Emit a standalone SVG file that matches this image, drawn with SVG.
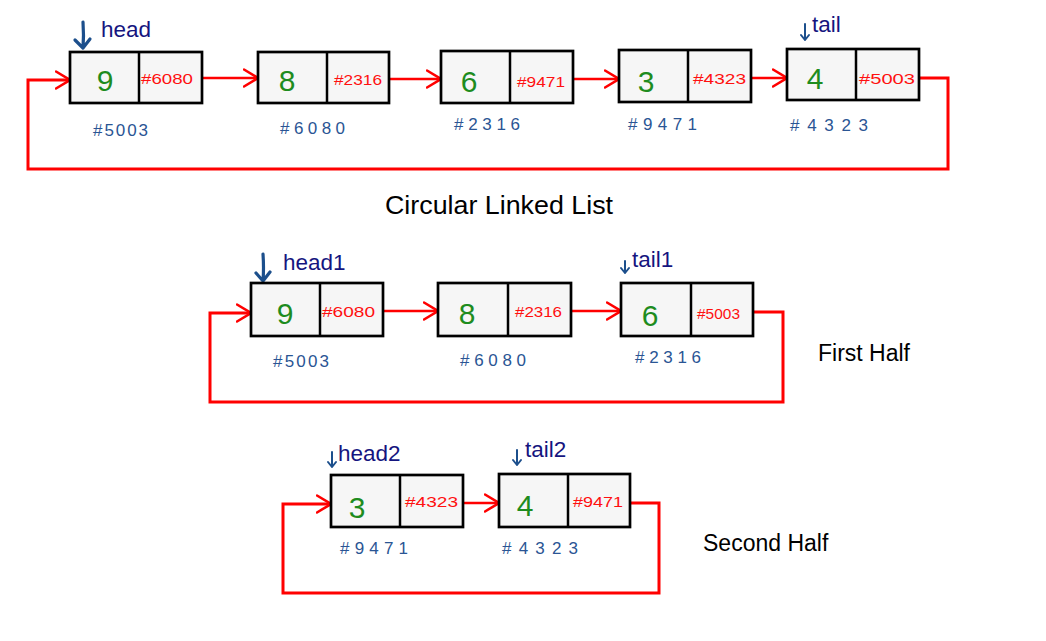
<svg xmlns="http://www.w3.org/2000/svg" width="1046" height="641" viewBox="0 0 1046 641">
<style>
.box{fill:#f6f6f6;stroke:#000;stroke-width:2.7}
.div{stroke:#000;stroke-width:2.5}
.val{font-family:"Liberation Sans","DejaVu Sans",sans-serif;font-size:30px;fill:#1e8c1e;text-anchor:middle;dominant-baseline:central}
.ptr{font-family:"Liberation Sans","DejaVu Sans",sans-serif;font-size:15px;fill:#ff1010;dominant-baseline:central}
.addr{font-family:"Liberation Sans","DejaVu Sans",sans-serif;font-size:17px;fill:#2a5594;dominant-baseline:central}
.lbl{font-family:"Liberation Sans","DejaVu Sans",sans-serif;font-size:22.5px;fill:#15157f}
.title{font-family:"Liberation Sans","Arial",sans-serif;fill:#000}
.link{fill:none;stroke:#ff0000;stroke-width:2.5;marker-end:url(#ah)}
.loop{fill:none;stroke:#ff0000;stroke-width:3;stroke-linejoin:miter;marker-end:url(#ah)}
.bigp{fill:none;stroke:#1c4f8c;stroke-width:3.2;stroke-linecap:round;stroke-linejoin:round}
.smp{fill:none;stroke:#1c4f8c;stroke-width:2;stroke-linecap:round;stroke-linejoin:round}
</style>
<defs>
<marker id="ah" viewBox="0 0 16 20" refX="15" refY="10" markerWidth="16" markerHeight="20" markerUnits="userSpaceOnUse" orient="auto">
<path d="M1,1.5 L15,10 L1,18.5" fill="none" stroke="#ff0000" stroke-width="2.6" stroke-linecap="round"/>
</marker>
</defs>
<rect width="1046" height="641" fill="#fff"/>

<g id="connectors">
<path class="link" d="M201,78 H258"/>
<path class="link" d="M389,79 H441"/>
<path class="link" d="M573,79 H619"/>
<path class="link" d="M751,78 H787"/>
<path class="loop" d="M919,78 H948 V169 H28 V80 H70"/>
<path class="link" d="M383,311 H438"/>
<path class="link" d="M571,311 H621"/>
<path class="loop" d="M753,312 H783 V402 H210 V313 H251"/>
<path class="link" d="M463,503 H499"/>
<path class="loop" d="M630,503 H659 V593 H283 V504 H331"/>
</g>

<g id="title-circular"><text class="title" x="385" y="214" font-size="26.5" textLength="228" lengthAdjust="spacingAndGlyphs">Circular Linked List</text></g>
<g id="title-first"><text class="title" x="818" y="361" font-size="23">First Half</text></g>
<g id="title-second"><text class="title" x="703" y="551" font-size="23">Second Half</text></g>

<g id="ptr-head">
<path class="bigp" d="M83,22 Q84,36 83,48 M75,40 L83,48 L90,39"/>
<text class="lbl" x="101" y="37" font-size="23">head</text>
</g>
<g id="ptr-tail">
<path class="smp" d="M805,24 V40 M801,35 L805,40 L809,35"/>
<text class="lbl" x="812" y="32" font-size="23">tail</text>
</g>
<g id="ptr-head1">
<path class="bigp" d="M263,254 Q264,268 263,281 M256,273 L263,281 L270,272"/>
<text class="lbl" x="283" y="270">head1</text>
</g>
<g id="ptr-tail1">
<path class="smp" d="M625,261 V273 M621,268 L625,273 L629,268"/>
<text class="lbl" x="632" y="267">tail1</text>
</g>
<g id="ptr-head2">
<path class="smp" d="M332,452 V467 M328,462 L332,467 L336,462"/>
<text class="lbl" x="338" y="461">head2</text>
</g>
<g id="ptr-tail2">
<path class="smp" d="M517,450 V465 M513,460 L517,465 L521,460"/>
<text class="lbl" x="525" y="457">tail2</text>
</g>

<g id="node-9">
<rect class="box" x="70" y="52" width="132" height="51"/><line class="div" x1="139" y1="52" x2="139" y2="103"/>
<text class="val" x="105" y="80">9</text>
<text class="ptr" x="141" y="78" textLength="52" lengthAdjust="spacingAndGlyphs">#6080</text>
<text class="addr" x="93" y="130" textLength="55" lengthAdjust="spacing">#5003</text>
</g>
<g id="node-8">
<rect class="box" x="258" y="52" width="131" height="51"/><line class="div" x1="327" y1="52" x2="327" y2="103"/>
<text class="val" x="287" y="80">8</text>
<text class="ptr" x="334" y="79" textLength="48" lengthAdjust="spacingAndGlyphs">#2316</text>
<text class="addr" x="280" y="128" textLength="65" lengthAdjust="spacing">#6080</text>
</g>
<g id="node-6">
<rect class="box" x="441" y="51" width="132" height="52"/><line class="div" x1="510" y1="51" x2="510" y2="103"/>
<text class="val" x="469" y="81">6</text>
<text class="ptr" x="517" y="81" textLength="48" lengthAdjust="spacingAndGlyphs">#9471</text>
<text class="addr" x="454" y="124" textLength="66" lengthAdjust="spacing">#2316</text>
</g>
<g id="node-3">
<rect class="box" x="619" y="50" width="132" height="52"/><line class="div" x1="688" y1="50" x2="688" y2="102"/>
<text class="val" x="646" y="81">3</text>
<text class="ptr" x="693" y="78" textLength="53" lengthAdjust="spacingAndGlyphs">#4323</text>
<text class="addr" x="628" y="124" textLength="69" lengthAdjust="spacing">#9471</text>
</g>
<g id="node-4">
<rect class="box" x="787" y="49" width="132" height="51"/><line class="div" x1="856" y1="49" x2="856" y2="100"/>
<text class="val" x="815" y="78">4</text>
<text class="ptr" x="859" y="78" textLength="56" lengthAdjust="spacingAndGlyphs">#5003</text>
<text class="addr" x="790" y="125" textLength="78" lengthAdjust="spacing">#4323</text>
</g>

<g id="node1-9">
<rect class="box" x="251" y="283" width="132" height="53"/><line class="div" x1="320" y1="283" x2="320" y2="336"/>
<text class="val" x="285" y="313">9</text>
<text class="ptr" x="322" y="311" textLength="53" lengthAdjust="spacingAndGlyphs">#6080</text>
<text class="addr" x="273" y="361" textLength="56" lengthAdjust="spacing">#5003</text>
</g>
<g id="node1-8">
<rect class="box" x="438" y="283" width="133" height="53"/><line class="div" x1="508" y1="283" x2="508" y2="336"/>
<text class="val" x="467" y="313">8</text>
<text class="ptr" x="515" y="311" textLength="47" lengthAdjust="spacingAndGlyphs">#2316</text>
<text class="addr" x="460" y="360" textLength="66" lengthAdjust="spacing">#6080</text>
</g>
<g id="node1-6">
<rect class="box" x="621" y="283" width="132" height="53"/><line class="div" x1="691" y1="283" x2="691" y2="336"/>
<text class="val" x="650" y="315">6</text>
<text class="ptr" x="697" y="313" textLength="43" lengthAdjust="spacingAndGlyphs">#5003</text>
<text class="addr" x="635" y="357" textLength="66" lengthAdjust="spacing">#2316</text>
</g>

<g id="node2-3">
<rect class="box" x="331" y="475" width="132" height="52"/><line class="div" x1="400" y1="475" x2="400" y2="527"/>
<text class="val" x="357" y="507">3</text>
<text class="ptr" x="405" y="501" textLength="53" lengthAdjust="spacingAndGlyphs">#4323</text>
<text class="addr" x="340" y="548" textLength="68" lengthAdjust="spacing">#9471</text>
</g>
<g id="node2-4">
<rect class="box" x="499" y="474" width="131" height="53"/><line class="div" x1="568" y1="474" x2="568" y2="527"/>
<text class="val" x="525" y="505">4</text>
<text class="ptr" x="573" y="501" textLength="50" lengthAdjust="spacingAndGlyphs">#9471</text>
<text class="addr" x="502" y="548" textLength="76" lengthAdjust="spacing">#4323</text>
</g>
</svg>
